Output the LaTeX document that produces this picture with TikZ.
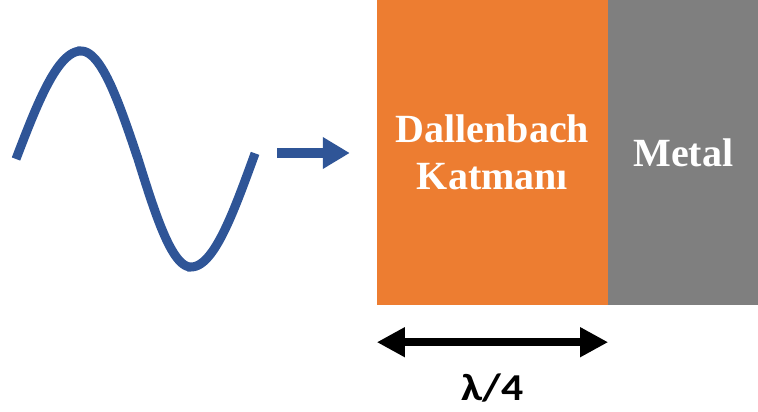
\documentclass[tikz,border=0pt]{standalone}
\usepackage{fontspec}
\setmainfont{Liberation Serif}
\newfontfamily\labelfont{Carlito}
\usepackage{xcolor}
\definecolor{waveblue}{RGB}{47, 85, 151}
\definecolor{layerorange}{RGB}{237, 125, 49}
\definecolor{metalgray}{RGB}{127, 127, 127}
\usepackage{tikz}
\usetikzlibrary{arrows.meta, positioning, calc}

\tikzset{
  block/.style={inner sep=0pt, minimum height=305pt, text=white, align=center,
    font=\fontsize{40}{47}\selectfont\bfseries},
  wave/.style={line width=9pt, waveblue, samples=40},
  incoming/.style={line width=10pt, waveblue, -{Triangle[length=27pt, width=30pt]}},
  span/.style={line width=8pt, black, {Triangle[length=28pt, width=28pt]}-{Triangle[length=28pt, width=28pt]}}
}

\begin{document}
\begin{tikzpicture}[x=1pt, y=-1pt, >=Stealth]
    \useasboundingbox (0,0) rectangle (758,412);
    % absorber layer and metal backing
    \node[block, fill=layerorange, minimum width=231pt] (dal) at (492.5,152.5) {Dallenbach\\Katmanı};
    \node[block, fill=metalgray, minimum width=150pt, right=0pt of dal] (metal) {Metal};
    % incident wave, one quarter at a time
    \draw[wave] plot[domain=0:90] ({16+65*\x/90}, {159-108*sin(\x)})
        -- plot[domain=90:180] ({81+57*(\x-90)/90}, {159-108*sin(\x)})
        -- plot[domain=180:270] ({138+53*(\x-180)/90}, {159-108*sin(\x)})
        -- plot[domain=270:363] ({191+62*(\x-270)/90}, {159-108*sin(\x)});
    \coordinate (src) at (277,153);
    \draw[incoming] (src) -- ([xshift=-27pt]dal.west |- src);
    % thickness
    \draw[span] ([yshift=-37pt]dal.south west) -- ([yshift=-37pt]dal.south east)
        node[midway, anchor=base, yshift=-58pt, font=\labelfont\bfseries\fontsize{38}{44}\selectfont] (lam) {\scalebox{1.15}[1]{λ/4}};
\end{tikzpicture}
\end{document}
